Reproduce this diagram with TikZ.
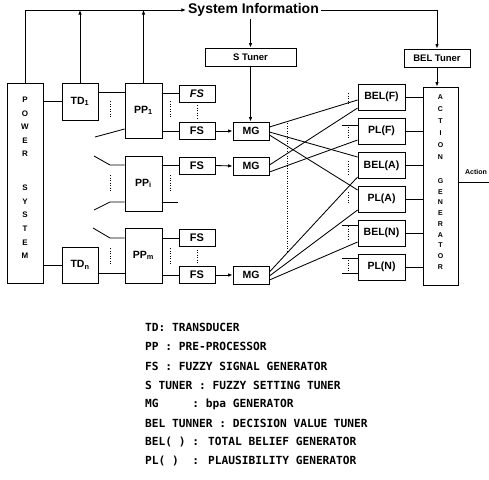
\documentclass[tikz,border=0pt]{standalone}
\usepackage{fontspec}
\setmainfont{Liberation Sans}
\newfontfamily\legfont{DejaVu Sans Mono}
\usetikzlibrary{arrows.meta,calc}
\begin{document}
\begin{tikzpicture}[x=1pt,y=-1pt,
  box/.style={draw, line width=0.85pt, inner sep=0pt, font=\bfseries\fontsize{10.5}{12}\selectfont},
  ln/.style={line width=0.85pt},
  arr/.style={line width=0.85pt, -{Latex[length=4.5pt,width=3.5pt]}},
  dts/.style={line width=0.9pt, dash pattern=on 1pt off 1.5pt},
  stk/.style={font=\bfseries\fontsize{8}{#1}\selectfont, align=center, inner sep=0pt},
  leg/.style={anchor=west, inner sep=0pt, font=\legfont\bfseries\fontsize{11.2}{12}\selectfont}]
\useasboundingbox (0,0) rectangle (489,479);
% left column
\node[box, minimum width=36pt, minimum height=200pt] (pw) at (25,183) {};
\node[stk=13.5pt] (pwa) at (25,127) {P\\O\\W\\E\\R};
\node[stk=13.6pt] (pwb) at (25,222) {S\\Y\\S\\T\\E\\M};
\node[box, minimum width=36pt, minimum height=37pt] (td1) at (80,101.5) {TD\textsubscript{1}};
\node[box, minimum width=36pt, minimum height=36pt] (tdn) at (80,265) {TD\textsubscript{n}};
\node[box, minimum width=37pt, minimum height=55pt] (pp1) at (143.5,110.5) {PP\textsubscript{1}};
\node[box, minimum width=37pt, minimum height=55pt] (ppi) at (143.5,183.5) {PP\textsubscript{i}};
\node[box, minimum width=37pt, minimum height=55pt] (ppm) at (143.5,255.5) {PP\textsubscript{m}};
% FS and MG
\node[box, minimum width=36pt, minimum height=17pt, font=\bfseries\itshape\fontsize{11}{12}\selectfont] (fs1) at (197,93.5) {FS};
\node[box, minimum width=36pt, minimum height=17pt, font=\bfseries\fontsize{11}{12}\selectfont] (fs2) at (197,131) {FS};
\node[box, minimum width=36pt, minimum height=17pt, font=\bfseries\fontsize{11}{12}\selectfont] (fs3) at (197,165.5) {FS};
\node[box, minimum width=36pt, minimum height=17pt, font=\bfseries\fontsize{11}{12}\selectfont] (fs4) at (197,238) {FS};
\node[box, minimum width=36pt, minimum height=17pt, font=\bfseries\fontsize{11}{12}\selectfont] (fs5) at (197,275) {FS};
\node[box, minimum width=36pt, minimum height=18pt] (mg1) at (251,131) {MG};
\node[box, minimum width=36pt, minimum height=18pt] (mg2) at (251,166) {MG};
\node[box, minimum width=36pt, minimum height=18pt] (mg3) at (251,275) {MG};
% top
\node[font=\bfseries\fontsize{14}{16}\selectfont, inner sep=2pt] (si) at (253.5,10) {System Information};
\node[box, minimum width=91pt, minimum height=18pt, font=\bfseries\fontsize{9.5}{11}\selectfont] (st) at (250.5,57) {S Tuner};
\node[box, minimum width=66pt, minimum height=18pt, font=\bfseries\fontsize{9.5}{11}\selectfont] (bt) at (437,58) {BEL Tuner};
% right column
\node[box, minimum width=47pt, minimum height=26pt] (belf) at (381.5,97) {BEL(F)};
\node[box, minimum width=47pt, minimum height=26pt] (plf) at (381.5,131) {PL(F)};
\node[box, minimum width=47pt, minimum height=26pt] (bela) at (381.5,165.5) {BEL(A)};
\node[box, minimum width=47pt, minimum height=26pt] (pla) at (381.5,199) {PL(A)};
\node[box, minimum width=47pt, minimum height=26pt] (beln) at (381.5,233) {BEL(N)};
\node[box, minimum width=47pt, minimum height=26pt] (pln) at (381.5,267) {PL(N)};
\node[box, minimum width=35pt, minimum height=198pt] (ag) at (440.5,186) {};
\node[stk=12pt, font=\bfseries\fontsize{7}{12}\selectfont] (aga) at (440.5,127) {A\\C\\T\\I\\O\\N};
\node[stk=10.75pt, font=\bfseries\fontsize{7}{10.75}\selectfont] (agb) at (440.5,224) {G\\E\\N\\E\\R\\A\\T\\O\\R};
\node[font=\bfseries\fontsize{7}{8}\selectfont, inner sep=0pt] (acttxt) at (476,172) {Action};
\coordinate (act) at (489,182);
% top connectors
\draw[arr] (pw.north) |- (si.west);
\draw[arr] (td1.north) -- (td1.north |- si.west);
\draw[arr] (pp1.north) -- (pp1.north |- si.west);
\draw[arr] (si.east) -| (bt.north);
\draw[arr] (si.south -| st.north) -- (st.north);
\draw[arr] (st.south) -- (st.south |- mg1.north);
\draw[arr] (bt.south) -- (bt.south |- ag.north);
% left connectors
\draw[ln] (pw.east |- td1.west) -- (td1.west);
\draw[ln] (pw.east |- tdn.west) -- (tdn.west);
\draw[ln] (td1.east |- 0,92) -- (pp1.west |- 0,92);
\draw[ln] (tdn.east |- 0,273) -- (ppm.west |- 0,273);
\coordinate (s1) at (95,137);
\coordinate (s2) at (94,156);
\coordinate (s3) at (94,210);
\coordinate (s4) at (93,228);
\draw[ln] (s1) -- (pp1.west |- 0,129);
\draw[ln] (s2) -- (110,165) -- (ppi.west |- 0,165);
\draw[ln] (s3) -- (110,202) -- (ppi.west |- 0,202);
\draw[ln] (s4) -- (110,238) -- (ppm.west |- 0,238);
\draw[dts] (110,101) -- (110,117);
\draw[dts] (110,175) -- (110,191);
\draw[dts] (110,248) -- (110,264);
% PP to FS
\draw[ln] (pp1.east |- fs1.west) -- (fs1.west);
\draw[ln] (pp1.east |- fs2.west) -- (fs2.west);
\draw[ln] (ppi.east |- fs3.west) -- (fs3.west);
\coordinate (o1) at (178,202);
\draw[ln] (ppi.east |- o1) -- (o1);
\draw[ln] (ppm.east |- fs4.west) -- (fs4.west);
\draw[ln] (ppm.east |- fs5.west) -- (fs5.west);
\draw[dts] (170,101) -- (170,118);
\draw[dts] (170,175) -- (170,191);
\draw[dts] (170,248) -- (170,265);
\draw[dts, shorten <=3pt, shorten >=3pt] (fs1.south) -- (fs2.north);
\draw[dts, shorten <=3pt, shorten >=3pt] (fs4.south) -- (fs5.north);
% FS to MG
\draw[arr] (fs2.east) -- (mg1.west);
\draw[arr] (fs3.east) -- (mg2.west);
\draw[arr] (fs5.east) -- (mg3.west);
\draw[dts] (287,123) -- (287,252);
% MG to BEL/PL
\draw[ln] ($(mg1.east)+(0,-4)$) -- ($(belf.west)+(0,3)$);
\draw[ln] ($(mg1.east)+(0,1)$) -- ($(bela.west)+(0,-8.5)$);
\draw[ln] ($(mg1.east)+(0,4)$) -- ($(pla.west)+(0,-9)$);
\draw[ln] ($(mg2.east)+(0,-1)$) -- ($(belf.west)+(0,11)$);
\draw[ln] ($(mg2.east)+(0,6)$) -- ($(plf.west)+(0,9)$);
\draw[ln] ($(mg3.east)+(0,-3)$) -- ($(bela.west)+(0,11.5)$);
\draw[ln] ($(mg3.east)+(0,1)$) -- ($(pla.west)+(0,11)$);
\draw[ln] ($(mg3.east)+(0,5)$) -- ($(beln.west)+(0,9)$);
% small stubs left of BEL/PL
\coordinate (q1) at (342,125);
\coordinate (q2) at (342,225);
\coordinate (q3) at (342,258);
\coordinate (q4) at (342,273);
\draw[ln] (q1) -- (plf.west |- q1);
\draw[ln] (q2) -- (beln.west |- q2);
\draw[ln] (q3) -- (pln.west |- q3);
\draw[ln] (q4) -- (pln.west |- q4);
\draw[dts] (348,93) -- (348,105);
\draw[dts] (348,127) -- (348,139);
\draw[dts] (348,161) -- (348,174);
\draw[dts] (348,192) -- (348,204);
\draw[dts] (348,226) -- (348,240);
\draw[dts] (348,260) -- (348,271);
% to action generator
\foreach \b in {belf,plf,bela,pla,beln,pln} \draw[ln] (\b.east) -- (\b.east -| ag.west);
\draw[ln] (ag.east |- act) -- (act);
% legend
\node[leg] (l1) at (145,327) {TD: TRANSDUCER};
\node[leg] (l2) at (145,346.5) {PP : PRE-PROCESSOR};
\node[leg] (l3) at (145,366) {FS : FUZZY SIGNAL GENERATOR};
\node[leg] (l4) at (145,385) {S TUNER : FUZZY SETTING TUNER};
\node[leg] (l5) at (145,404) {MG~~~~~: bpa GENERATOR};
\node[leg] (l6) at (145,423) {BEL TUNNER : DECISION VALUE TUNER};
\node[leg] (l7) at (145,442) {BEL(~) : TOTAL BELIEF GENERATOR};
\node[leg] (l8) at (145,461) {PL(~)~~: PLAUSIBILITY GENERATOR};
\end{tikzpicture}
\end{document}
